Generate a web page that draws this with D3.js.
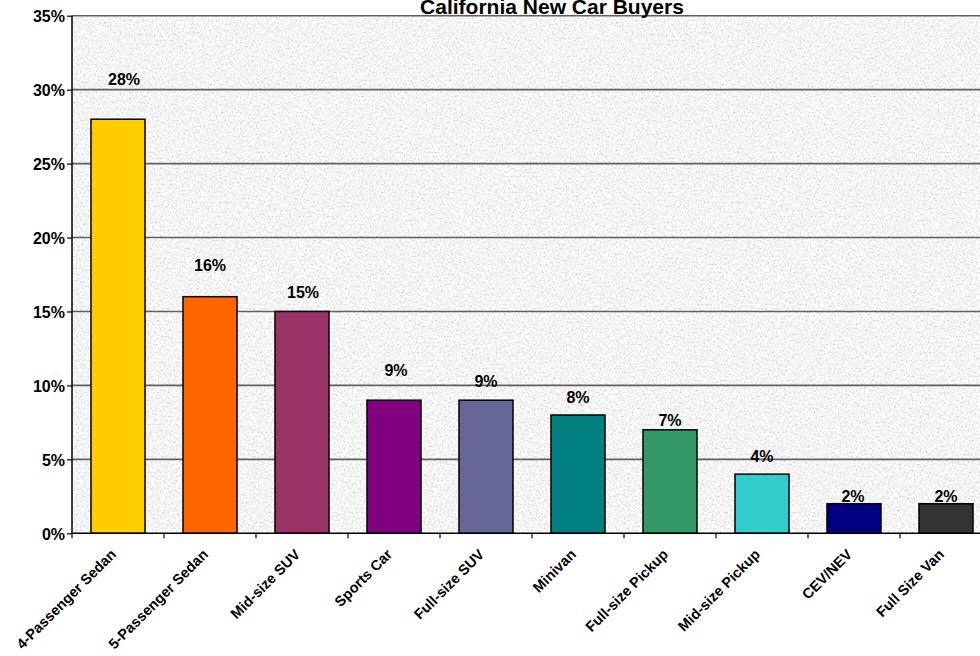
<!DOCTYPE html>
<html>
<head>
<meta charset="utf-8">
<script src="https://cdn.jsdelivr.net/npm/d3@7"></script>
<style>
  html, body { margin: 0; padding: 0; background: #ffffff; overflow: hidden; }
  svg { display: block; font-family: "Liberation Sans", Arial, sans-serif; }
</style>
</head>
<body>
<svg id="chart" width="980" height="656"></svg>
<script>
// ---- data ----
const title = "California New Car Buyers";
const categories = ["4-Passenger Sedan", "5-Passenger Sedan", "Mid-size SUV", "Sports Car", "Full-size SUV",
                    "Minivan", "Full-size Pickup", "Mid-size Pickup", "CEV/NEV", "Full Size Van"];
const shares = [0.28, 0.16, 0.15, 0.09, 0.09, 0.08, 0.07, 0.04, 0.02, 0.02];
const barColors = ["#FFCC00", "#FF6600", "#993366", "#800080", "#666699",
                   "#008080", "#339966", "#33CCCC", "#000080", "#333333"];
const yTicks = [0, 0.05, 0.10, 0.15, 0.20, 0.25, 0.30, 0.35];

// ---- layout (label placement as in the reference, px above bar top) ----
const labelGap = [34, 26, 13.5, 24, 13, 12, 4, 12, 1.7, 1.7];
const labelDx = [6, 0, 1, 2, 0, 0, 0, 0, -1, 0];

const svg = d3.select("#chart");
const plotL = 72, plotR = 992, plotT = 15.7, plotB = 533.3;

const x = d3.scaleBand().domain(categories).range([plotL, plotR]).paddingInner(0.413).paddingOuter(0.2065);
const y = d3.scaleLinear().domain([0, 0.35]).range([plotB, plotT]);

// texture filter
const defs = svg.append("defs");
const f = defs.append("filter").attr("id", "granite")
  .attr("x", 0).attr("y", 0).attr("width", 1).attr("height", 1)
  .attr("filterUnits", "objectBoundingBox");
f.append("feTurbulence").attr("type", "fractalNoise").attr("baseFrequency", 0.5)
  .attr("numOctaves", 3).attr("seed", 7).attr("result", "noise");
f.append("feColorMatrix").attr("in", "noise").attr("type", "matrix")
  .attr("values", "0.75 0 0 0 0.54  0.75 0 0 0 0.54  0.75 0 0 0 0.54  0 0 0 0 1");

svg.append("rect").attr("x", plotL).attr("y", plotT).attr("width", plotR - plotL).attr("height", plotB - plotT)
  .attr("fill", "#e6e6e6").attr("filter", "url(#granite)");

// gridlines
svg.append("g").selectAll("line").data(yTicks.filter(d => d > 0)).join("line")
  .attr("x1", plotL).attr("x2", plotR)
  .attr("y1", d => y(d)).attr("y2", d => y(d))
  .attr("stroke", "#606060").attr("stroke-width", 1.6);

// bars
svg.append("g").selectAll("rect").data(shares).join("rect")
  .attr("x", (d, i) => x(categories[i]))
  .attr("y", d => y(d))
  .attr("width", x.bandwidth())
  .attr("height", d => y(0) - y(d))
  .attr("fill", (d, i) => barColors[i])
  .attr("stroke", "#000").attr("stroke-width", 1.5);

// y axis
const yAxis = d3.axisLeft(y).tickValues(yTicks).tickFormat(d3.format(".0%")).tickSize(5).tickPadding(5);
const gy = svg.append("g").attr("transform", `translate(${plotL},0)`).call(yAxis);
gy.select(".domain").attr("stroke", "#000").attr("stroke-width", 1.5).attr("d", `M0,${plotT}V${plotB}`);
gy.selectAll(".tick line").attr("stroke", "#000").attr("stroke-width", 1.2);
gy.selectAll(".tick text").attr("font-size", 16).attr("font-weight", "bold").attr("fill", "#000")
  .attr("font-family", "'Liberation Sans', Arial, sans-serif").attr("dy", "0.36em").attr("x", -7);

// x axis
const step = x.step();
const gx = svg.append("g").attr("transform", `translate(0,${plotB})`);
gx.append("line").attr("x1", plotL).attr("x2", plotR).attr("stroke", "#000").attr("stroke-width", 1.5);
gx.selectAll("line.tk").data(d3.range(categories.length + 1)).join("line").attr("class", "tk")
  .attr("x1", i => plotL + i * step).attr("x2", i => plotL + i * step)
  .attr("y1", 0).attr("y2", 5).attr("stroke", "#000").attr("stroke-width", 1.2);
gx.selectAll("text").data(categories).join("text")
  .attr("transform", d => `translate(${x(d) + x.bandwidth() / 2 - 1},${22}) rotate(-45)`)
  .attr("text-anchor", "end")
  .attr("font-size", 14.5).attr("font-weight", "bold").attr("fill", "#000")
  .text(d => d);

// value labels
svg.append("g").selectAll("text").data(shares).join("text")
  .attr("x", (d, i) => x(categories[i]) + x.bandwidth() / 2 + labelDx[i])
  .attr("y", (d, i) => y(d) - labelGap[i])
  .attr("text-anchor", "middle")
  .attr("font-size", 16).attr("font-weight", "bold").attr("fill", "#000")
  .text(d => d3.format(".0%")(d));

// title
svg.append("text").attr("x", 552).attr("y", 14).attr("text-anchor", "middle")
  .attr("font-size", 21).attr("font-weight", "bold").attr("fill", "#000").text(title);
</script>
</body>
</html>
